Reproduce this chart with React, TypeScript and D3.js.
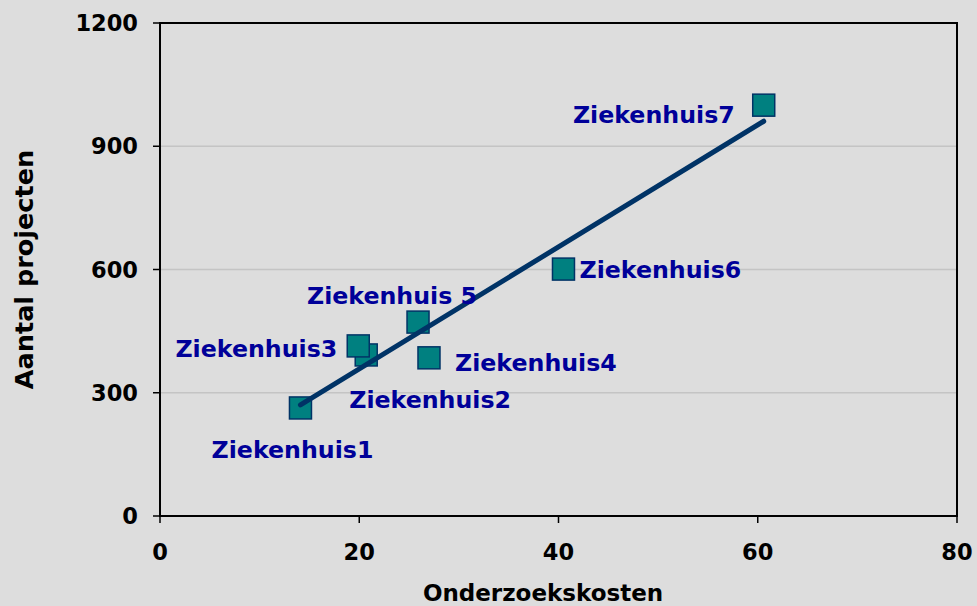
import React, { useEffect } from "react";
import * as d3 from "d3";

const hospitals = ["Ziekenhuis1", "Ziekenhuis2", "Ziekenhuis3", "Ziekenhuis4", "Ziekenhuis 5", "Ziekenhuis6", "Ziekenhuis7"];
const costs = [14.1, 20.7, 19.9, 27.0, 25.9, 40.5, 60.6];
const projects = [263, 392, 414, 385, 472, 601, 1000];
const xTicks = [0, 20, 40, 60, 80];
const yTicks = [0, 300, 600, 900, 1200];

// label layout relative to the marker: [dx, dy, anchor]
const labelLayout: [number, number, string][] = [
  [-8, 50, "middle"],
  [-17, 53, "start"],
  [-21, 11, "end"],
  [26, 13, "start"],
  [-26, -18, "middle"],
  [16, 9, "start"],
  [-29, 18, "end"],
];

const W = 977, H = 606;
const M = { left: 160, right: 20, top: 23, bottom: 90 };
const FONT = "'DejaVu Sans', Verdana, sans-serif";

export default function App() {
  useEffect(() => {
    document.body.style.margin = "0";
    document.body.style.background = "#DDDDDD";
  }, []);

  const x = d3.scaleLinear().domain([0, 80]).range([M.left, W - M.right]);
  const y = d3.scaleLinear().domain([0, 1200]).range([H - M.bottom, M.top]);

  // least-squares trend line
  const mx = d3.mean(costs)!;
  const my = d3.mean(projects)!;
  let sxy = 0, sxx = 0;
  costs.forEach((c, i) => { sxy += (c - mx) * (projects[i] - my); sxx += (c - mx) ** 2; });
  const slope = sxy / sxx;
  const icpt = my - slope * mx;
  const xMin = d3.min(costs)!, xMax = d3.max(costs)!;
  const trend = d3.line<number>().x(d => x(d)).y(d => y(icpt + slope * d));

  const ms = 22;
  const x0 = x(0), x1 = x(80), y0 = y(0), y1 = y(1200);

  return (
    <svg width={W} height={H} style={{ display: "block", background: "#DDDDDD" }} fontFamily={FONT}>
      <rect x={0} y={0} width={W} height={H} fill="#DDDDDD" />
      {yTicks.filter(t => t > 0 && t < 1200).map(t => (
        <line key={"g" + t} x1={x0} x2={x1} y1={y(t)} y2={y(t)} stroke="#C4C4C4" strokeWidth={1.5} />
      ))}
      <rect x={x0} y={y1} width={x1 - x0} height={y0 - y1} fill="none" stroke="#000" strokeWidth={2} />
      {yTicks.map(t => (
        <g key={"y" + t}>
          <line x1={x0 - 7} x2={x0} y1={y(t)} y2={y(t)} stroke="#000" strokeWidth={1.5} />
          <text x={138} y={y(t)} dy="0.36em" textAnchor="end" fontSize={22.5} fontWeight="bold" fill="#000">{t}</text>
        </g>
      ))}
      {xTicks.map(t => (
        <g key={"x" + t}>
          <line x1={x(t)} x2={x(t)} y1={y0} y2={y0 + 7} stroke="#000" strokeWidth={1.5} />
          <text x={x(t)} y={560} textAnchor="middle" fontSize={22.5} fontWeight="bold" fill="#000">{t}</text>
        </g>
      ))}
      <text x={543} y={601} textAnchor="middle" fontSize={23} fontWeight="bold" fill="#000">Onderzoekskosten</text>
      <text transform={`translate(33,${(y0 + y1) / 2}) rotate(-90)`} textAnchor="middle" fontSize={25.5} fontWeight="bold" fill="#000">Aantal projecten</text>
      {costs.map((c, i) => (
        <rect key={"m" + i} x={x(c) - ms / 2} y={y(projects[i]) - ms / 2} width={ms} height={ms}
          fill="#008080" stroke="#003366" strokeWidth={1.5} />
      ))}
      <path d={trend([xMin, xMax])!} stroke="#003366" strokeWidth={5} strokeLinecap="round" fill="none" />
      {hospitals.map((h, i) => {
        const [dx, dy, anchor] = labelLayout[i];
        return (
          <text key={"l" + i} x={x(costs[i]) + dx} y={y(projects[i]) + dy} textAnchor={anchor as any}
            fontSize={23.7} fontWeight="bold" fill="#000099">{h}</text>
        );
      })}
    </svg>
  );
}
